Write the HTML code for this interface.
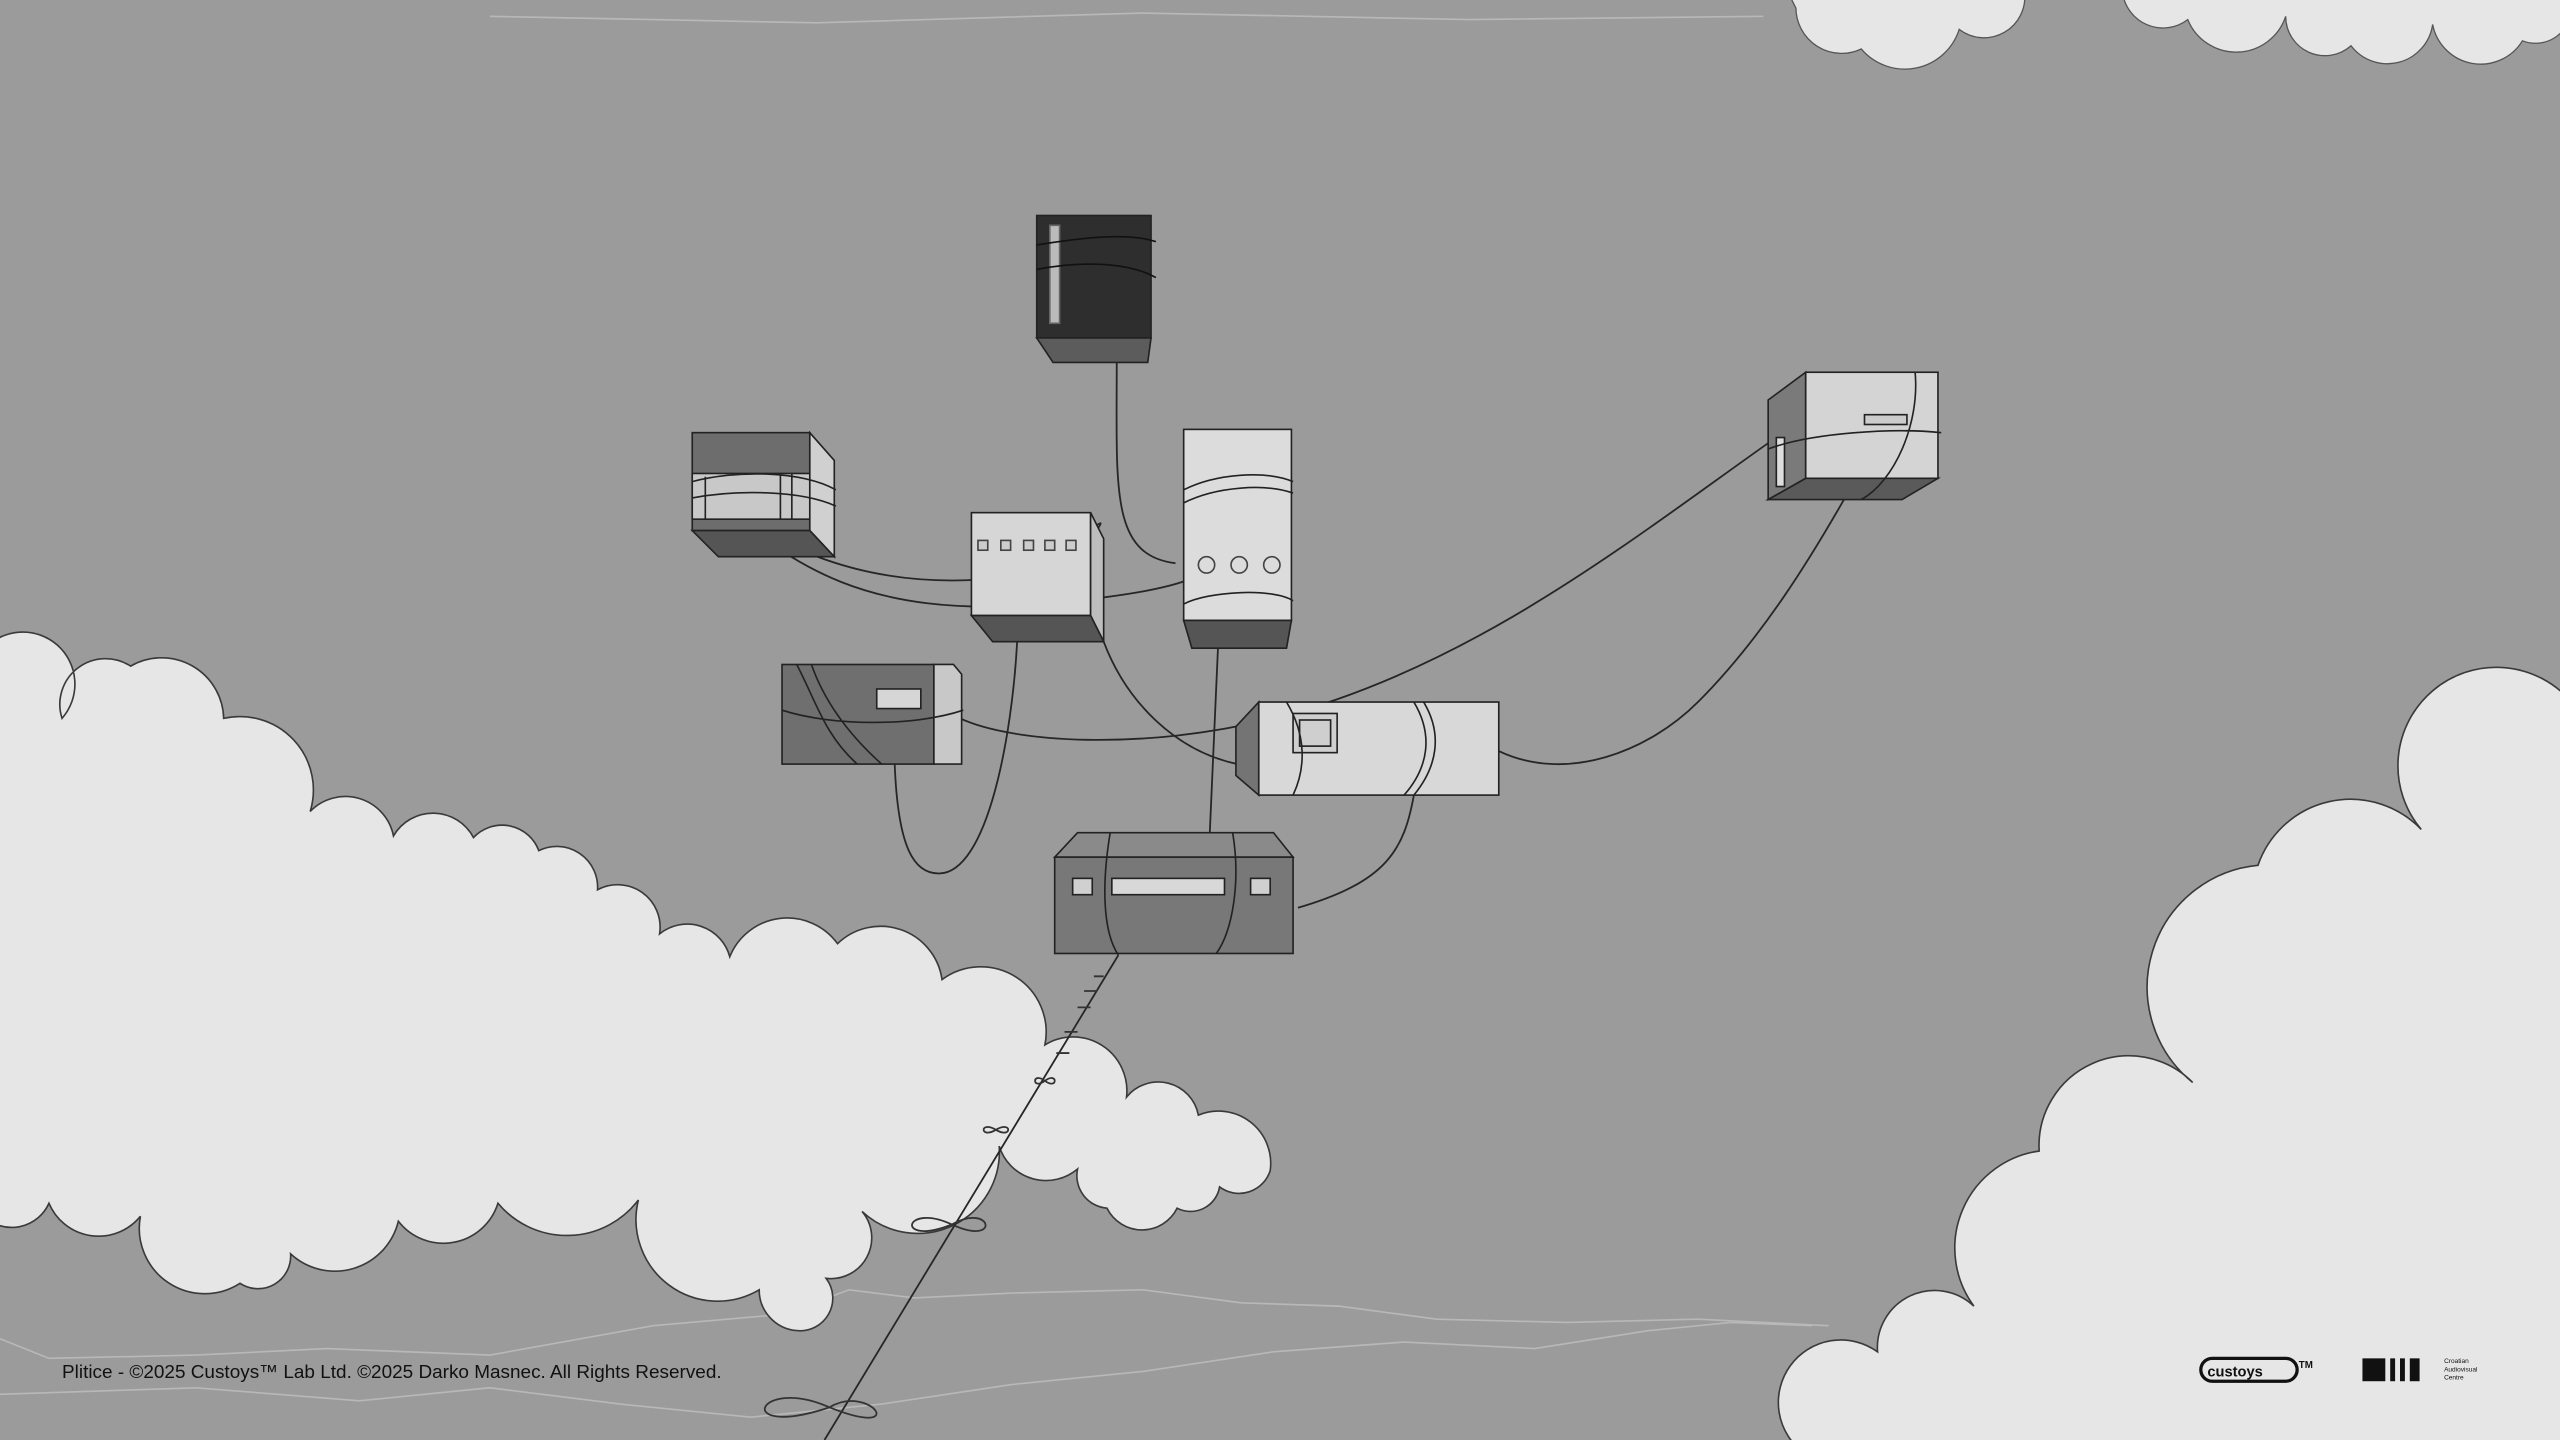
<!DOCTYPE html>
<html><head><meta charset="utf-8"><style>
html,body{margin:0;padding:0;background:#9a9a9a;width:2560px;height:1440px;overflow:hidden;}
svg{display:block;}
</style></head><body>
<svg width="2560" height="1440" viewBox="0 0 1568 882" xmlns="http://www.w3.org/2000/svg">
<rect width="1568" height="882" fill="#9b9b9b"/>
<g fill="none" stroke="#b8b8b8" stroke-width="1">
<path d="M0,820 L30,832 L120,830 L200,826 L300,830 L400,812 L480,805 L520,790 L560,795 L620,792 L700,790 L760,798 L820,800 L880,808 L960,810 L1040,808 L1120,812"/>
<path d="M0,854 L60,852 L120,850 L220,858 L300,850 L380,860 L460,868 L540,860 L620,848 L700,840 L780,828 L860,822 L940,826 L1010,815 L1060,810 L1110,812"/>
<path d="M300,10 L500,14 L700,8 L900,12 L1080,10"/>
</g>
<path fill="#e6e6e6" stroke="#3a3a3a" stroke-width="1" d="M-10,398
A30,30 0 0 1 38,440 A28,28 0 0 1 80,408 A38,38 0 0 1 137,440 A45,45 0 0 1 190,497
A30,30 0 0 1 241,512 A28,28 0 0 1 290,513 A24,24 0 0 1 330,521 A25,25 0 0 1 366,545
A26,26 0 0 1 404,572 A27,27 0 0 1 447,586 A38,38 0 0 1 513,578 A38,38 0 0 1 577,600
A40,40 0 0 1 640,640 A33,33 0 0 1 690,672 A25,25 0 0 1 734,683 A32,32 0 0 1 778,717
A20,20 0 0 1 747,727 A18,18 0 0 1 721,740 A24,24 0 0 1 678,740 A20,20 0 0 1 660,716
A30,30 0 0 1 612,702 A50,50 0 0 1 528,742 A25,25 0 0 1 506,783 A20,20 0 0 1 488,815
A25,25 0 0 1 465,790 A50,50 0 0 1 391,735 A55,55 0 0 1 305,737 A35,35 0 0 1 244,748
A40,40 0 0 1 178,768 A20,20 0 0 1 147,786 A40,40 0 0 1 86,745 A33,33 0 0 1 30,737
A25,25 0 0 1 -10,745 Z"/>
<path fill="#e6e6e6" stroke="#3a3a3a" stroke-width="1" d="M1105,890
A35,35 0 0 1 1150,828 A35,35 0 0 1 1209,800 A60,60 0 0 1 1249,705 A55,55 0 0 1 1343,663
A75,75 0 0 1 1383,530 A60,60 0 0 1 1483,508 A60,60 0 0 1 1575,430 L1575,890 Z"/>
<path fill="#e6e6e6" stroke="#555" stroke-width="0.8" d="M1095,-5 L1240,-5 A25,25 0 0 1 1200,18 A35,35 0 0 1 1140,30 A28,28 0 0 1 1100,5 Z"/>
<path fill="#e6e6e6" stroke="#555" stroke-width="0.8" d="M1300,-5 L1575,-5 L1575,5 A22,22 0 0 1 1545,25 A30,30 0 0 1 1490,15 A28,28 0 0 1 1440,28 A24,24 0 0 1 1400,10 A32,32 0 0 1 1340,12 A25,25 0 0 1 1300,-5 Z"/>

<g fill="none" stroke="#262626" stroke-width="1.1">
<path d="M684,222 C684,300 680,340 720,345"/>
<path d="M428,300 C470,330 520,360 600,355 C650,350 690,300 668,330"/>
<path d="M430,300 C480,340 520,380 640,370 C690,365 720,360 735,352"/>
<path d="M623,393 C620,450 605,535 575,535 C560,535 550,520 548,468"/>
<path d="M676,393 C690,430 720,460 758,468"/>
<path d="M746,397 L741,510"/>
<path d="M588,440 C620,455 700,460 780,440 C900,410 1000,330 1085,270"/>
<path d="M918,460 C960,480 1010,460 1040,430 C1080,390 1110,340 1130,305"/>
<path d="M866,487 C860,520 850,540 795,556"/>
<path d="M610,318 C640,340 660,360 676,340"/>
<path d="M685,585 L505,882"/>
</g>
<g fill="none" stroke="#333" stroke-width="1.1">
<path d="M640,662 c-8,-6 -8,6 0,0 c8,-6 8,6 0,0"/>
<path d="M610,692 c-10,-6 -10,6 0,0 c10,-6 10,6 0,0"/>
<path d="M583,750 c-30,-14 -35,14 0,0 c25,-14 30,14 0,0"/>
<path d="M508,862 c-45,-20 -60,20 0,0 c25,-15 50,20 0,0"/>
<path d="M676,598 l-6,0 M672,607 l-8,0 M668,617 l-8,0 M660,632 l-8,0 M655,645 l-8,0"/>
</g>

<g stroke="#222" stroke-width="1">
<rect x="635" y="132" width="70" height="75" fill="#2e2e2e"/>
<polygon points="635,207 705,207 703,222 645,222" fill="#5c5c5c"/>
<rect x="643" y="138" width="6" height="60" fill="#bbb" stroke="#666"/>
</g>
<path d="M635,150 C660,146 690,142 708,148 M635,165 C660,160 690,160 708,170" stroke="#111" fill="none"/>
<g stroke="#222" stroke-width="1">
<rect x="424" y="265" width="72" height="60" fill="#6d6d6d"/>
<rect x="424" y="290" width="72" height="28" fill="#c8c8c8"/>
<polygon points="496,265 511,282 511,341 496,325" fill="#d0d0d0"/>
<polygon points="424,325 496,325 511,341 440,341" fill="#555"/>
<line x1="478" y1="290" x2="478" y2="318"/><line x1="485" y1="290" x2="485" y2="318"/><line x1="432" y1="292" x2="432" y2="318"/>
</g>
<path d="M424,295 C450,288 490,288 512,300 M424,305 C450,300 490,300 512,310" stroke="#222" fill="none"/>
<g stroke="#222" stroke-width="1">
<rect x="595" y="314" width="73" height="63" fill="#d6d6d6"/>
<polygon points="668,314 676,330 676,393 668,377" fill="#bdbdbd"/>
<polygon points="595,377 668,377 676,393 608,393" fill="#555"/>
<g fill="#ccc" stroke="#444"><rect x="599" y="331" width="6" height="6"/><rect x="613" y="331" width="6" height="6"/><rect x="627" y="331" width="6" height="6"/><rect x="640" y="331" width="6" height="6"/><rect x="653" y="331" width="6" height="6"/></g>
</g>
<g stroke="#222" stroke-width="1">
<rect x="725" y="263" width="66" height="117" fill="#dcdcdc"/>
<polygon points="725,380 791,380 788,397 730,397" fill="#555"/>
<g fill="none" stroke="#444"><circle cx="739" cy="346" r="5"/><circle cx="759" cy="346" r="5"/><circle cx="779" cy="346" r="5"/></g>
</g>
<path d="M725,300 C745,290 775,288 792,295 M725,308 C745,298 775,296 792,302 M725,370 C740,362 780,360 792,368" stroke="#222" fill="none"/>
<g stroke="#222" stroke-width="1">
<polygon points="1083,245 1106,228 1106,293 1083,306" fill="#7a7a7a"/>
<rect x="1106" y="228" width="81" height="65" fill="#d4d4d4"/>
<polygon points="1083,306 1106,293 1187,293 1165,306" fill="#5a5a5a"/>
<rect x="1142" y="254" width="26" height="6" fill="#ccc"/>
<rect x="1088" y="268" width="5" height="30" fill="#ddd"/>
</g>
<path d="M1083,275 C1110,265 1160,262 1189,265 M1173,228 C1176,260 1160,295 1140,306" stroke="#222" fill="none"/>
<g stroke="#222" stroke-width="1">
<rect x="479" y="407" width="93" height="61" fill="#6f6f6f"/>
<polygon points="572,407 584,407 589,413 589,468 572,468" fill="#c8c8c8"/>
<rect x="537" y="422" width="27" height="12" fill="#d6d6d6"/>
</g>
<path d="M479,435 C510,445 560,445 590,435 M488,407 C500,430 505,450 525,468 M497,407 C505,430 520,450 540,468" stroke="#222" fill="none"/>
<g stroke="#222" stroke-width="1">
<polygon points="771,430 757,445 757,475 771,487" fill="#747474"/>
<rect x="771" y="430" width="147" height="57" fill="#d8d8d8"/>
<rect x="792" y="437" width="27" height="24" fill="#cfcfcf"/>
<rect x="796" y="441" width="19" height="16" fill="none"/>
</g>
<path d="M788,430 C800,450 800,470 792,487 M866,430 C878,450 875,470 860,487 M872,430 C884,450 880,470 866,487" stroke="#222" fill="none"/>
<g stroke="#222" stroke-width="1">
<polygon points="646,525 660,510 780,510 792,525" fill="#8a8a8a"/>
<rect x="646" y="525" width="146" height="59" fill="#787878"/>
<rect x="657" y="538" width="12" height="10" fill="#d0d0d0"/>
<rect x="681" y="538" width="69" height="10" fill="#d8d8d8"/>
<rect x="766" y="538" width="12" height="10" fill="#d0d0d0"/>
</g>
<path d="M680,510 C675,540 675,570 685,585 M755,510 C760,540 755,570 745,584" stroke="#222" fill="none"/>

<text x="38" y="844" font-family="Liberation Sans, sans-serif" font-size="11.5" fill="#111" textLength="404" lengthAdjust="spacingAndGlyphs">Plitice - ©2025 Custoys™ Lab Ltd. ©2025 Darko Masnec. All Rights Reserved.</text>
<rect x="1348" y="832" width="59" height="14" rx="7" fill="none" stroke="#111" stroke-width="2"/>
<text x="1352" y="843" font-family="Liberation Sans, sans-serif" font-size="9" font-weight="bold" fill="#111">custoys</text>
<text x="1408" y="838" font-family="Liberation Sans, sans-serif" font-size="6" font-weight="bold" fill="#111">TM</text>
<rect x="1447" y="832" width="14" height="14" fill="#111"/>
<rect x="1464" y="832" width="3" height="14" fill="#111"/><rect x="1470" y="832" width="3" height="14" fill="#111"/><rect x="1476" y="832" width="6" height="14" fill="#111"/>
<text x="1497" y="835" font-family="Liberation Sans, sans-serif" font-size="4" fill="#111">Croatian</text>
<text x="1497" y="840" font-family="Liberation Sans, sans-serif" font-size="4" fill="#111">Audiovisual</text>
<text x="1497" y="845" font-family="Liberation Sans, sans-serif" font-size="4" fill="#111">Centre</text>
</svg>
</body></html>
